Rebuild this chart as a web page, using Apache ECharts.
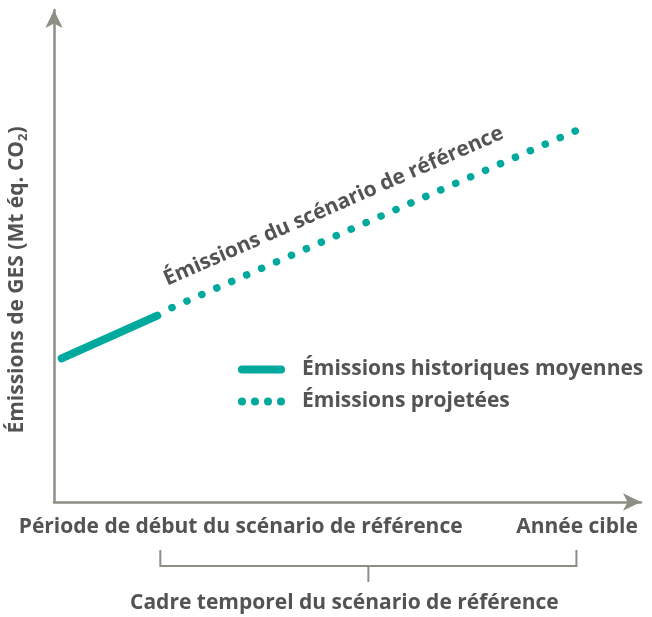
<!DOCTYPE html>
<html>
<head>
<meta charset="utf-8">
<script src="https://cdn.jsdelivr.net/npm/echarts@6/dist/echarts.min.js"></script>
<style>
  html, body { margin: 0; padding: 0; background: #fff; }
  #main { width: 652px; height: 617px; }
</style>
</head>
<body>
<div id="main"></div>
<script>
  // données (axes 0-100, sans unité)
  var histX = [1.3, 17.6];
  var histY = [29.2, 37.9];
  var projX = [17.6, 89.0];
  var projY = [38.2, 75.5];
  var seriesNames = ['Émissions historiques moyennes', 'Émissions projetées'];
  var xLabels = ['Période de début du scénario de référence', 'Année cible'];
  var xLabelPos = [31.8, 89.1];
  var yName = 'Émissions de GES (Mt éq. CO{sub|2})';
  var lineLabel = 'Émissions du scénario de référence';
  var bracketLabel = 'Cadre temporel du scénario de référence';

  var teal = '#00a99d';
  var grey = '#8e8e84';
  var textColor = '#535355';
  var font = '"Open Sans", "DejaVu Sans", sans-serif';
  var fw = 'bold', fs = 21;

  var myChart = echarts.init(document.getElementById('main'));

  var option = {
    animation: false,
    grid: { left: 54, right: 11, top: 10, bottom: 115, outerBoundsMode: 'none', containLabel: false },
    xAxis: {
      type: 'value', min: 0, max: 100,
      axisLine: {
        show: true, symbol: ['none', 'arrow'], symbolSize: [13, 18],
        lineStyle: { color: grey, width: 2.5 }
      },
      axisTick: { show: false }, axisLabel: { show: false }, splitLine: { show: false }
    },
    yAxis: {
      type: 'value', min: 0, max: 100,
      axisLine: {
        show: true, symbol: ['none', 'arrow'], symbolSize: [13, 18],
        lineStyle: { color: grey, width: 2.5 }
      },
      axisTick: { show: false }, axisLabel: { show: false }, splitLine: { show: false }
    },
    legend: {
      orient: 'vertical', left: 238, top: 358, padding: 0, itemWidth: 47, itemHeight: 8, itemGap: 9,
      selectedMode: false,
      textStyle: { color: textColor, fontFamily: font, fontWeight: fw, fontSize: fs, lineHeight: 23, padding: [0, 0, 0, 12] },
      data: [
        { name: seriesNames[0], icon: 'path://M4,0 L43,0 A4,4 0 0,1 43,8 L4,8 A4,4 0 0,1 4,0 Z' },
        { name: seriesNames[1], icon: 'path://M0,4 A4,4 0 1,0 8,4 A4,4 0 1,0 0,4 Z M13,4 A4,4 0 1,0 21,4 A4,4 0 1,0 13,4 Z M26,4 A4,4 0 1,0 34,4 A4,4 0 1,0 26,4 Z M39,4 A4,4 0 1,0 47,4 A4,4 0 1,0 39,4 Z' }
      ]
    },
    series: [
      {
        name: seriesNames[0], type: 'line', symbol: 'none', color: teal,
        data: histX.map(function (x, i) { return [x, histY[i]]; }),
        lineStyle: { color: teal, width: 8, cap: 'round' }
      },
      {
        name: seriesNames[1], type: 'line', symbol: 'none', color: teal,
        data: projX.map(function (x, i) { return [x, projY[i]]; }),
        lineStyle: { color: teal, width: 7.5, cap: 'round', type: [0.1, 16.2], dashOffset: -16 }
      }
    ]
  };
  myChart.setOption(option);

  // annotations placées à partir des coordonnées du graphique
  var p0 = myChart.convertToPixel({ gridIndex: 0 }, [projX[0], projY[0]]);
  var p1 = myChart.convertToPixel({ gridIndex: 0 }, [projX[1], projY[1]]);
  var ang = Math.atan2(p0[1] - p1[1], p1[0] - p0[0]);
  var mid = [(p0[0] + p1[0]) / 2 - 22, (p0[1] + p1[1]) / 2 + 22 * Math.tan(ang)];
  var off = 28;
  var lx = mid[0] - off * Math.sin(ang);
  var ly = mid[1] - off * Math.cos(ang);

  var origin = myChart.convertToPixel({ gridIndex: 0 }, [0, 0]);
  var axisY = origin[1];
  var bL = myChart.convertToPixel({ gridIndex: 0 }, [histX[1], 0])[0] + 3;
  var bR = myChart.convertToPixel({ gridIndex: 0 }, [projX[1], 0])[0];
  var bTop = axisY + 48, bBot = axisY + 64, bMid = (bL + bR) / 2;
  var txt = { fill: textColor, fontFamily: font, fontWeight: fw, fontSize: fs, align: 'center', verticalAlign: 'middle' };

  myChart.setOption({
    graphic: [
      {
        type: 'text', x: origin[0] - 37, y: 280, rotation: Math.PI / 2,
        style: Object.assign({
          text: yName,
          rich: { sub: { fontSize: 13, fontWeight: fw, fill: textColor, fontFamily: font, padding: [12, 0, 0, 0] } }
        }, txt)
      },
      { type: 'text', x: lx, y: ly, rotation: ang, style: Object.assign({ text: lineLabel }, txt) },
      { type: 'text', x: myChart.convertToPixel({ gridIndex: 0 }, [xLabelPos[0], 0])[0], y: axisY + 25, style: Object.assign({ text: xLabels[0] }, txt) },
      { type: 'text', x: myChart.convertToPixel({ gridIndex: 0 }, [xLabelPos[1], 0])[0], y: axisY + 25, style: Object.assign({ text: xLabels[1] }, txt) },
      { type: 'polyline', shape: { points: [[bL, bTop], [bL, bBot], [bR, bBot], [bR, bTop]] }, style: { stroke: grey, lineWidth: 2, fill: null } },
      { type: 'line', shape: { x1: bMid, y1: bBot, x2: bMid, y2: bBot + 16 }, style: { stroke: grey, lineWidth: 2 } },
      { type: 'text', x: bMid - 24, y: axisY + 101, style: Object.assign({ text: bracketLabel }, txt) }
    ]
  });
</script>
</body>
</html>
